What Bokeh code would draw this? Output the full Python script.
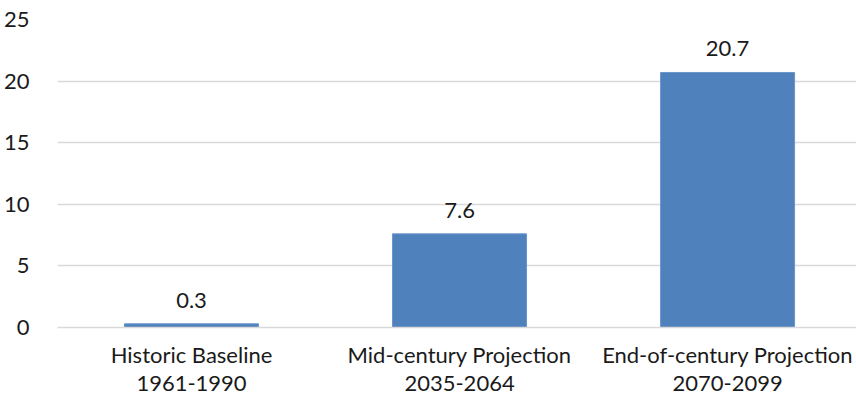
from bokeh.plotting import figure
from bokeh.models import ColumnDataSource, FixedTicker, Range1d
from bokeh.core.properties import value
from bokeh.embed import file_html
from bokeh.resources import INLINE

categories = ["Historic Baseline\n1961-1990", "Mid-century Projection\n2035-2064", "End-of-century Projection\n2070-2099"]
values = [0.3, 7.6, 20.7]
value_labels = ["0.3", "7.6", "20.7"]
y_ticks = [0, 5, 10, 15, 20, 25]

xs = list(range(len(categories)))
src = ColumnDataSource(dict(x=xs, top=values, lab=value_labels))

FONT = "Lato"
FS = "22px"
p = figure(width=856, height=398, output_backend="svg", toolbar_location=None,
           x_range=Range1d(-0.5, 2.481), y_range=Range1d(0, 25),
           min_border_left=54, min_border_right=0, min_border_top=19, min_border_bottom=68)
p.outline_line_color = None
p.background_fill_color = "white"
p.border_fill_color = "white"

p.vbar(x="x", top="top", width=0.5, bottom=0, source=src, fill_color="#4F81BD", line_color="#6A96CB", line_width=1)
p.text(x="x", y="top", text="lab", source=src, text_align="center", text_baseline="bottom",
       y_offset=-16, text_font=value(FONT), text_font_size=FS, text_color="#1a1a1a")

p.xgrid.grid_line_color = None
p.ygrid.grid_line_color = "#d9d9d9"
p.ygrid.grid_line_width = 1.5
p.ygrid.ticker = FixedTicker(ticks=y_ticks)

p.yaxis.ticker = FixedTicker(ticks=y_ticks)
p.yaxis.axis_line_color = None
p.yaxis.major_tick_line_color = None
p.yaxis.minor_tick_line_color = None
p.yaxis.major_label_standoff = 22
p.yaxis.major_label_text_font = FONT
p.yaxis.major_label_text_font_size = FS
p.yaxis.major_label_text_color = "#1a1a1a"

p.xaxis.ticker = FixedTicker(ticks=xs)
p.xaxis.major_label_overrides = {i: c for i, c in zip(xs, categories)}
p.xaxis.axis_line_color = "#d9d9d9"
p.xaxis.axis_line_width = 1.5
p.xaxis.major_tick_line_color = None
p.xaxis.minor_tick_line_color = None
p.xaxis.major_label_standoff = 7
p.xaxis.major_label_text_line_height = 1.05
p.xaxis.major_label_text_font = FONT
p.xaxis.major_label_text_font_size = FS
p.xaxis.major_label_text_color = "#1a1a1a"

open("out.html", "w").write(file_html(p, INLINE))
